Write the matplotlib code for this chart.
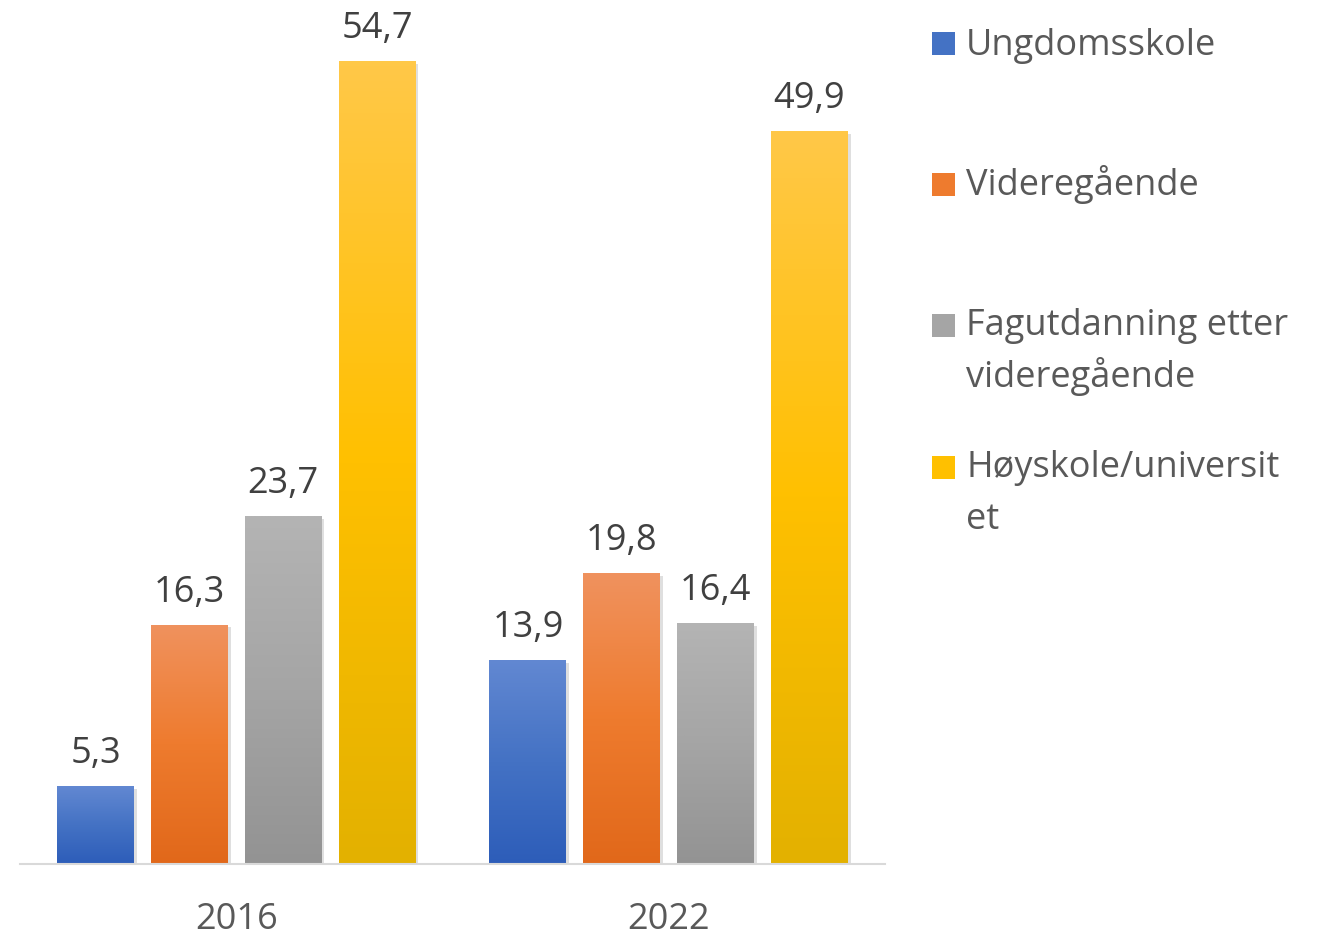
import matplotlib
matplotlib.use("Agg")
import matplotlib.pyplot as plt
import numpy as np
from matplotlib.colors import LinearSegmentedColormap
from matplotlib.patches import Rectangle
import matplotlib.patheffects as pe

years = ["2016", "2022"]
series = ["Ungdomsskole", "Videregående", "Fagutdanning etter\nvideregående", "Høyskole/universit\net"]
values = {
    "Ungdomsskole": [5.3, 13.9],
    "Videregående": [16.3, 19.8],
    "Fagutdanning etter\nvideregående": [23.7, 16.4],
    "Høyskole/universit\net": [54.7, 49.9],
}
grad_colors = [
    ("#6288D2", "#4472C4", "#2D5DB9"),
    ("#F0925E", "#EE7B2E", "#E1681A"),
    ("#B4B4B4", "#A5A5A5", "#939393"),
    ("#FFC848", "#FFC000", "#E3B100"),
]
text_color = "#595959"
label_color = "#404040"
font = "Open Sans"
fs = 26

W, H = 1324, 937
fig = plt.figure(figsize=(W / 100, H / 100), dpi=100)
ppu = 14.68
ax_left, ax_right = 20, 885
base_y = 865
ymax = 60
ax = fig.add_axes([ax_left / W, (H - base_y) / H, (ax_right - ax_left) / W, ymax * ppu / H])
ax.set_xlim(-0.5, 1.5)
ax.set_ylim(0, ymax)
ax.axis("off")

width = 0.178
step = 0.217
x = np.arange(len(years))
for i, s in enumerate(series):
    offs = (i - 1.5) * step
    bars = ax.bar(x + offs, values[s], width, color=grad_colors[i][1], zorder=2,
                  path_effects=[pe.SimplePatchShadow(offset=(2, -2), alpha=0.25, shadow_rgbFace="#808080"), pe.Normal()])
    cmap = LinearSegmentedColormap.from_list(f"g{i}", [grad_colors[i][2], grad_colors[i][1], grad_colors[i][0]])
    grad = np.linspace(0, 1, 256).reshape(-1, 1)
    for b, v in zip(bars, values[s]):
        x0 = b.get_x()
        im = ax.imshow(grad, extent=[x0, x0 + width, 0, v], origin="lower", aspect="auto",
                       cmap=cmap, zorder=3, interpolation="bilinear")
        im.set_clip_path(b)
        ax.text(x0 + width / 2, v + 24 / ppu, f"{v:.1f}".replace(".", ","), ha="center", va="baseline",
                fontsize=fs, color=label_color, family=font, zorder=4)

ax.set_xlim(-0.5, 1.5)
ax.set_ylim(0, ymax)
ax.plot([-0.5, 1.5], [0, 0], color="#D9D9D9", lw=1.5, zorder=5, clip_on=False)

for xi, yl in zip(x, years):
    ax.text(xi, -64 / ppu, yl, ha="center", va="baseline", fontsize=fs, color=text_color, family=font,
            clip_on=False)

# legend
marker_top = [33, 174, 315, 457]
text_base = [55, 195, 335, 477]
for i, s in enumerate(series):
    fig.patches.append(Rectangle((932 / W, (H - marker_top[i] - 23) / H), 23 / W, 23 / H,
                                 transform=fig.transFigure, facecolor=grad_colors[i][1], edgecolor="none"))
    lines = s.split("\n")
    for j, ln in enumerate(lines):
        fig.text(966 / W, (H - text_base[i] - 52 * j) / H, ln, ha="left", va="baseline", fontsize=fs,
                 color=text_color, family=font, transform=fig.transFigure)

fig.savefig("out.png", dpi=100)
